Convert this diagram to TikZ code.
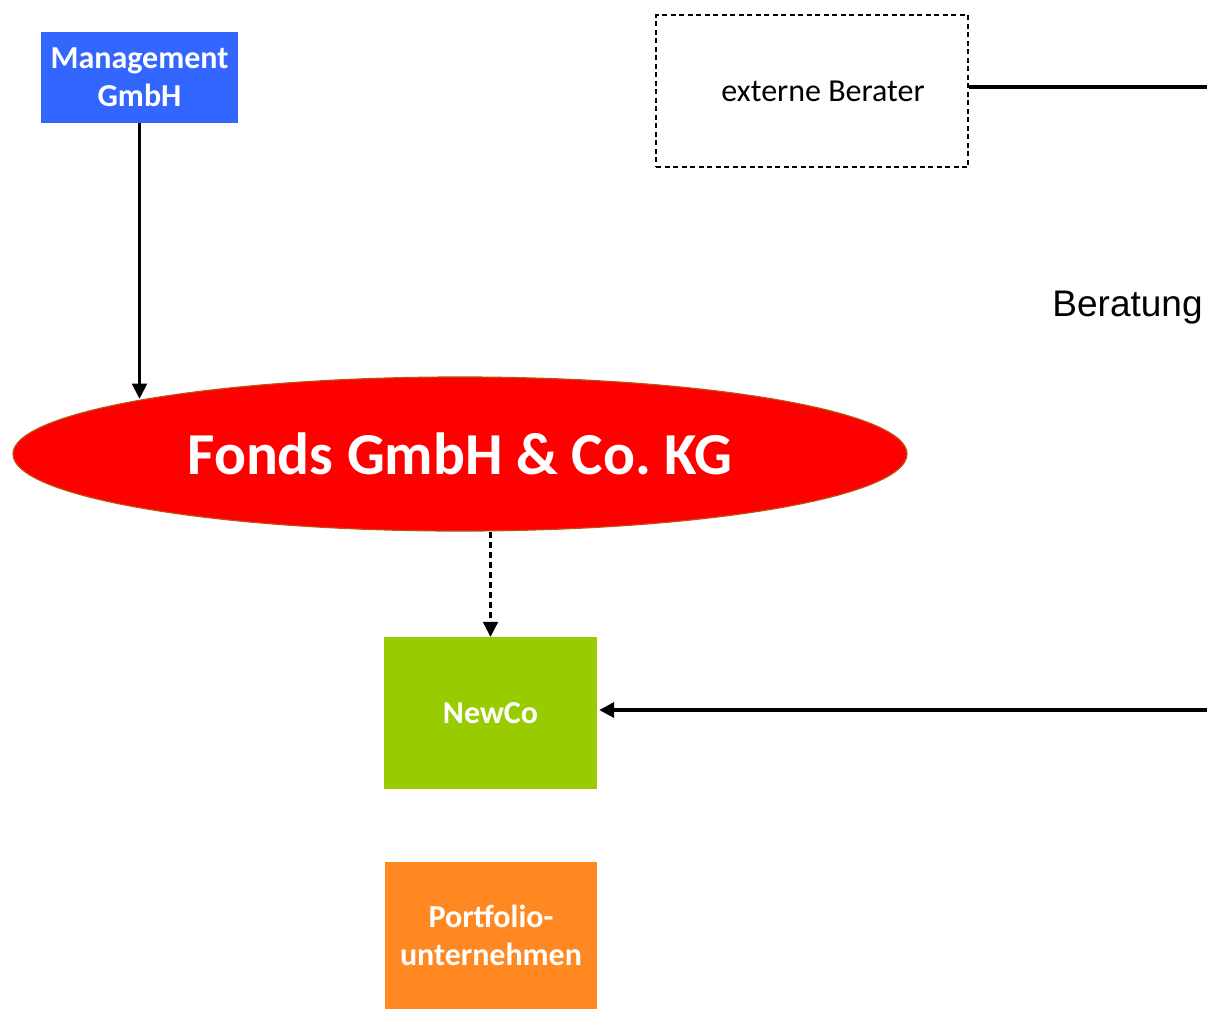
\documentclass[tikz,border=0pt]{standalone}
\usepackage{fontspec}
\setmainfont{Carlito}
\newfontfamily\arialfont{Liberation Sans}
\usetikzlibrary{arrows.meta,shapes.geometric}
\definecolor{mgmtblue}{RGB}{51,102,255}
\definecolor{fondsred}{RGB}{255,0,0}
\definecolor{fondsedge}{RGB}{190,80,20}
\definecolor{newcogreen}{RGB}{153,204,0}
\definecolor{portorange}{RGB}{255,136,34}
\begin{document}
\begin{tikzpicture}[x=1pt,y=-1pt,
  box/.style={rectangle, inner sep=0pt, align=center, text=white,
    font=\fontsize{32}{38}\selectfont\bfseries},
  tip/.style={-{Triangle[width=15pt,length=15pt]}},
  thinarrow/.style={tip, line width=2.2pt},
  dasharrow/.style={tip, line width=2.2pt, dash pattern=on 6pt off 4pt},
  thickline/.style={line width=3.6pt},
  thickarrow/.style={tip, line width=3.6pt},
]
\useasboundingbox (0,0) rectangle (1207,1010);

% entities
\node[box, fill=mgmtblue, minimum width=197pt, minimum height=91pt]
  (mgmt) at (139.5,77.5) {Management\\GmbH};
\node[ellipse, fill=fondsred, draw=fondsedge, line width=1.2pt, inner sep=0pt,
  minimum width=894pt, minimum height=154pt, text=white,
  font=\fontsize{59.5}{70}\selectfont\bfseries]
  (fonds) at (460,454) {Fonds GmbH \& Co.\ KG};
\node[box, fill=newcogreen, minimum width=213pt, minimum height=152pt]
  (newco) at (490.5,713) {NewCo};
\node[box, fill=portorange, minimum width=212pt, minimum height=147pt]
  (portfolio) at (491,935.5) {Portfolio-\\unternehmen};
\node[rectangle, draw, line width=2pt, dash pattern=on 5pt off 3.5pt,
  inner sep=0pt, minimum width=312pt, minimum height=152pt,
  font=\fontsize{32}{38}\selectfont]
  (berater) at (812,91) {\hspace*{22pt}externe Berater};
\node[anchor=base, font=\arialfont\fontsize{37}{44}\selectfont]
  (beratung) at (1127.5,316) {Beratung};

% free ends at the right margin
\coordinate (rtop) at (1207,87);
\coordinate (rbot) at (1207,710);

% connectors
\draw[thinarrow] (mgmt.south) -- (mgmt.south |- fonds.170.5);
\draw[dasharrow] (newco.north |- fonds.south) -- (newco.north);
\draw[thickline] (berater.east |- rtop) -- (rtop);
\draw[thickarrow] (rbot) -- ([xshift=2pt]newco.east |- rbot);
\end{tikzpicture}
\end{document}
